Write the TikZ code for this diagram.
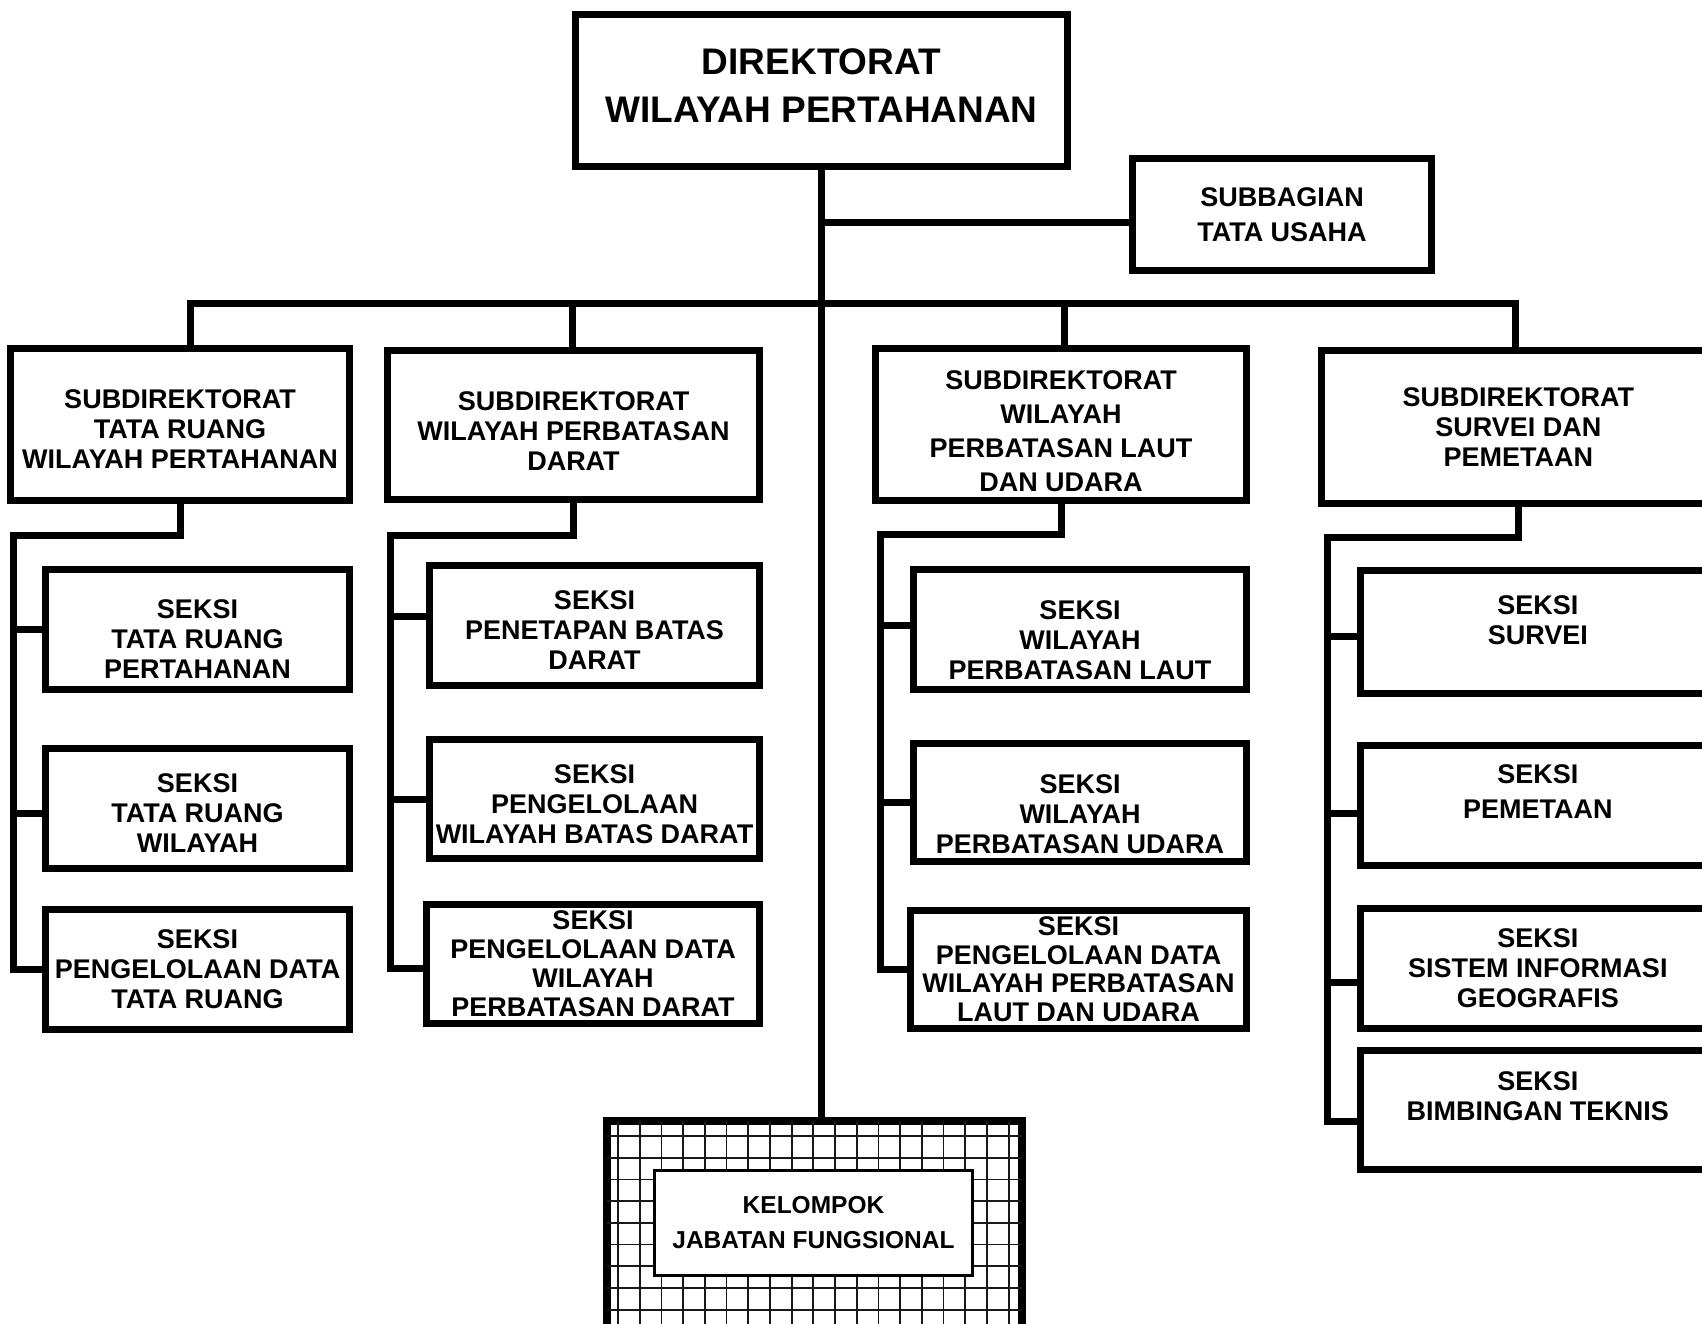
\documentclass[tikz,border=0pt]{standalone}
\usepackage{fontspec}
\setmainfont{Liberation Sans}
\usetikzlibrary{calc}

\begin{document}
\begin{tikzpicture}[x=1pt,y=-1pt]
  \tikzstyle{box}=[rectangle,draw=black,fill=white,line width=7pt,inner sep=0pt,align=center,font=\bfseries\fontsize{27}{30}\selectfont]
  \tikzstyle{link}=[line width=7pt]
  \tikzstyle{grid}=[line width=1.8pt,black!90]
  \useasboundingbox (0,0) rectangle (1702,1323);
  \clip (0,0) rectangle (1702,1323);

  % top
  \node[box,minimum width=492pt,minimum height=152pt,text depth=9pt,font=\bfseries\fontsize{37}{48}\selectfont] (dir) at (821.5,90.5) {DIREKTORAT\\WILAYAH PERTAHANAN};
  \node[box,minimum width=299pt,minimum height=112pt,font=\bfseries\fontsize{27}{35}\selectfont] (tu) at (1282,214.5) {SUBBAGIAN\\TATA USAHA};

  % subdirektorat
  \node[box,minimum width=339pt,minimum height=152pt,text height=87.7pt,text depth=0pt] (sd1) at (180,424.5) {SUBDIREKTORAT\\TATA RUANG\\WILAYAH PERTAHANAN};
  \node[box,minimum width=372pt,minimum height=149pt,text height=91.7pt,text depth=0pt] (sd2) at (573.5,425) {SUBDIREKTORAT\\WILAYAH PERBATASAN\\DARAT};
  \node[box,minimum width=371pt,minimum height=152pt,text height=133.7pt,text depth=0pt,font=\bfseries\fontsize{27}{34}\selectfont] (sd3) at (1061,424.5) {SUBDIREKTORAT\\WILAYAH\\PERBATASAN LAUT\\DAN UDARA};
  \node[box,minimum width=393.5pt,minimum height=153pt] (sd4) at (1518.25,427) {SUBDIREKTORAT\\SURVEI DAN\\PEMETAAN};

  % seksi
  \node[box,minimum width=304pt,minimum height=120pt,text height=97.7pt,text depth=0pt] (s11) at (197.5,629.5) {SEKSI\\TATA RUANG\\PERTAHANAN};
  \node[box,minimum width=304pt,minimum height=120pt,text height=88.7pt,text depth=0pt] (s12) at (197.5,808.5) {SEKSI\\TATA RUANG\\WILAYAH};
  \node[box,minimum width=304pt,minimum height=120pt] (s13) at (197.5,969.5) {SEKSI\\PENGELOLAAN DATA\\TATA RUANG};

  \node[box,minimum width=330pt,minimum height=120pt,text height=88.7pt,text depth=0pt] (s21) at (594.5,625.5) {SEKSI\\PENETAPAN BATAS\\DARAT};
  \node[box,minimum width=330pt,minimum height=119pt,text height=89.7pt,text depth=0pt] (s22) at (594.5,799) {SEKSI\\PENGELOLAAN\\WILAYAH BATAS DARAT};
  \node[box,minimum width=333pt,minimum height=118.5pt,font=\bfseries\fontsize{27}{29}\selectfont] (s23) at (593,964) {SEKSI\\PENGELOLAAN DATA\\WILAYAH\\PERBATASAN DARAT};

  \node[box,minimum width=333pt,minimum height=120pt,text height=98.7pt,text depth=0pt] (s31) at (1080,629.7) {SEKSI\\WILAYAH\\PERBATASAN LAUT};
  \node[box,minimum width=333pt,minimum height=118pt,text height=102.7pt,text depth=0pt] (s32) at (1080,802.5) {SEKSI\\WILAYAH\\PERBATASAN UDARA};
  \node[box,minimum width=336pt,minimum height=118pt,font=\bfseries\fontsize{27}{28.5}\selectfont] (s33) at (1078.5,969) {SEKSI\\PENGELOLAAN DATA\\WILAYAH PERBATASAN\\LAUT DAN UDARA};

  \node[box,minimum width=354.5pt,minimum height=123pt,text depth=24pt] (s41) at (1537.75,631.7) {SEKSI\\SURVEI};
  \node[box,minimum width=354.5pt,minimum height=120pt,text depth=26pt,font=\bfseries\fontsize{27}{35}\selectfont] (s42) at (1537.75,805) {SEKSI\\PEMETAAN};
  \node[box,minimum width=354.5pt,minimum height=120pt] (s43) at (1537.75,968) {SEKSI\\SISTEM INFORMASI\\GEOGRAFIS};
  \node[box,minimum width=354.5pt,minimum height=119pt,text depth=28pt] (s44) at (1537.75,1109.7) {SEKSI\\BIMBINGAN TEKNIS};

  % kelompok jabatan fungsional
  \node[box,line width=8pt,minimum width=415pt,minimum height=219pt] (kel) at (814.5,1230.5) {};
  \begin{scope}
    \clip (kel.north west) rectangle (kel.south east);
    \foreach \i in {0,...,18}
      \draw[grid] (618+21.7*\i,1121) -- (618+21.7*\i,1340);
    \foreach \j in {0,...,9}
      \draw[grid] (607,1136+21.7*\j) -- (1022,1136+21.7*\j);
  \end{scope}
  \node[box,line width=3pt,minimum width=318pt,minimum height=105pt,font=\bfseries\fontsize{24.5}{35}\selectfont] (jf) at (813.5,1223) {KELOMPOK\\JABATAN FUNGSIONAL};

  % garis
  \coordinate (b1) at (190,303);
  \coordinate (b2) at (572,303);
  \coordinate (b3) at (1064,303);
  \coordinate (b4) at (1515,303);
  \coordinate (k1) at (13,535);
  \coordinate (k2) at (390,535);
  \coordinate (k3) at (880,534);
  \coordinate (k4) at (1327,537);

  \draw[link] (dir.south) -- (dir.south |- kel.north);
  \draw[link] ([yshift=-8pt]tu.west) -- ([yshift=-8pt]tu.west -| dir.south);
  \draw[link] (b1 |- sd1.north) -- (b1) -- (b4) -- (b4 |- sd4.north);
  \draw[link] (b2) -- (b2 |- sd2.north);
  \draw[link] (b3) -- (b3 |- sd3.north);

  \draw[link] (sd1.south) |- (k1) |- (s13.west);
  \draw[link] (k1 |- s11.west) -- (s11.west);
  \draw[link] ([yshift=-4.5pt]s12.west -| k1) -- ([yshift=-4.5pt]s12.west);

  \draw[link] (sd2.south) |- (k2) |- ([yshift=-4pt]s23.west);
  \draw[link] ([yshift=9.5pt]s21.west -| k2) -- ([yshift=9.5pt]s21.west);
  \draw[link] (k2 |- s22.west) -- (s22.west);

  \draw[link] (sd3.south) |- (k3) |- (s33.west);
  \draw[link] ([yshift=4pt]s31.west -| k3) -- ([yshift=4pt]s31.west);
  \draw[link] (k3 |- s32.west) -- (s32.west);

  \draw[link] (sd4.south) |- (k4) |- ([yshift=-12pt]s44.west);
  \draw[link] ([yshift=-5pt]s41.west -| k4) -- ([yshift=-5pt]s41.west);
  \draw[link] ([yshift=-8pt]s42.west -| k4) -- ([yshift=-8pt]s42.west);
  \draw[link] ([yshift=-14pt]s43.west -| k4) -- ([yshift=-14pt]s43.west);
\end{tikzpicture}
\end{document}
